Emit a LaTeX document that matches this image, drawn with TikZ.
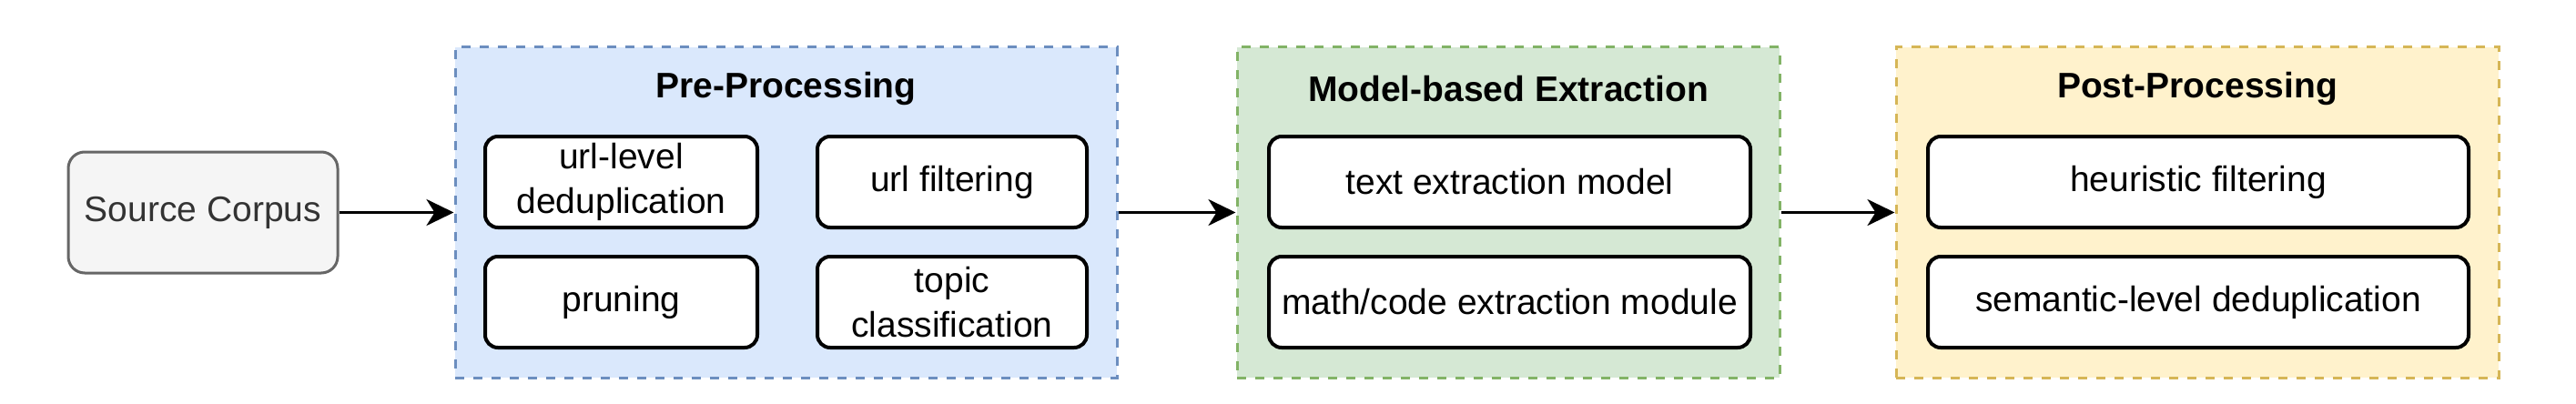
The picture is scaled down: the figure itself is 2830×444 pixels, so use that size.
\documentclass[tikz,border=0pt]{standalone}
\usepackage{fontspec}
\setmainfont{Liberation Sans}
\usetikzlibrary{arrows.meta}
\definecolor{srcfill}{HTML}{F5F5F5}
\definecolor{srcline}{HTML}{666666}
\definecolor{srctext}{HTML}{333333}
\definecolor{bluefill}{HTML}{DAE8FC}
\definecolor{blueline}{HTML}{6C8EBF}
\definecolor{greenfill}{HTML}{D5E8D4}
\definecolor{greenline}{HTML}{82B366}
\definecolor{yellowfill}{HTML}{FFF2CC}
\definecolor{yellowline}{HTML}{D6B656}
\tikzset{
  lbl/.style={font=\fontsize{39}{49}\selectfont, align=center, inner sep=0pt},
  container/.style={draw, line width=3pt, dash pattern=on 10pt off 10pt, inner sep=0pt},
  stepbox/.style={draw=black, fill=white, line width=4pt, rounded corners=14pt,
    minimum height=100pt, inner sep=0pt, lbl},
  srcbox/.style={draw=srcline, fill=srcfill, line width=3pt, rounded corners=18pt,
    minimum width=296pt, minimum height=133pt, inner sep=0pt, lbl, text=srctext},
  title/.style={font=\fontsize{39}{48}\selectfont\bfseries, inner sep=0pt},
  arr/.style={line width=3.5pt, -{Stealth[length=30pt,width=29pt,inset=9pt]}}
}
\begin{document}
\begin{tikzpicture}[x=1pt,y=-1pt]
\useasboundingbox (0,0) rectangle (2830,444);
% containers
\node[container, draw=blueline, fill=bluefill, minimum width=727pt, minimum height=363pt] (pre) at (863.5,233.5) {};
\node[container, draw=greenline, fill=greenfill, minimum width=596pt, minimum height=363pt] (model) at (1657,233.5) {};
\node[container, draw=yellowline, fill=yellowfill, minimum width=662pt, minimum height=363pt] (post) at (2414,233.5) {};
% titles
\node[title] (pretitle) at (863.5,98) {Pre-Processing};
\node[title] (modeltitle) at (1657,98) {Model-based Extraction};
\node[title] (posttitle) at (2414,98) {Post-Processing};
% source
\node[srcbox] (src) at (223,233.5) {Source Corpus};
% pre-processing steps
\node[stepbox, minimum width=299pt] (urldedup) at (682.5,200) {url-level\\deduplication};
\node[stepbox, minimum width=296pt] (urlfilt) at (1046,200) {url filtering};
\node[stepbox, minimum width=299pt] (pruning) at (682.5,332) {pruning};
\node[stepbox, minimum width=296pt] (topic) at (1046,332) {topic\\classification};
% model-based extraction
\node[stepbox, minimum width=529pt] (textext) at (1658.5,200) {text extraction model};
\node[stepbox, minimum width=529pt] (mathext) at (1658.5,332) {math/code extraction module};
% post-processing
\node[stepbox, minimum width=594pt] (heur) at (2415,200) {heuristic filtering};
\node[stepbox, minimum width=594pt] (semdedup) at (2415,332) {semantic-level deduplication};
% arrows
\draw[arr] (src.east) -- (pre.west);
\draw[arr] (pre.east) -- (model.west);
\draw[arr] (model.east) -- (post.west);
\end{tikzpicture}
\end{document}
